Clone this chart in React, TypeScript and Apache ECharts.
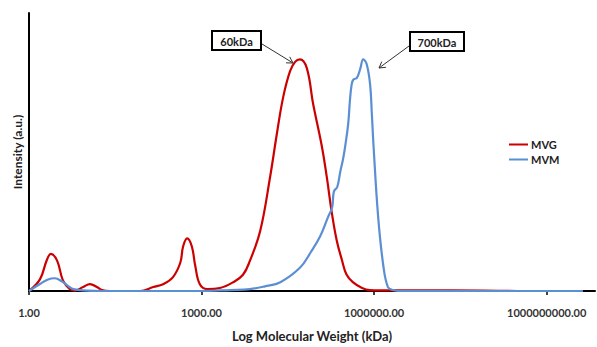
import React, { useEffect, useRef } from "react";
import * as echarts from "echarts";

// log10(MW in kDa) and normalised intensity
const mvgLogMW = [0, 0.19, 0.31, 0.38, 0.49, 0.59, 0.71, 0.8, 0.94, 1.06, 1.18, 1.27, 1.41, 1.93, 2.16, 2.33, 2.5, 2.63, 2.68, 2.75, 2.83, 2.89, 2.97, 3.1, 3.32, 3.55, 3.72, 3.84, 4.02, 4.19, 4.31, 4.42, 4.54, 4.63, 4.71, 4.83, 4.94, 5.09, 5.18, 5.26, 5.35, 5.44, 5.52, 5.63, 5.79, 5.93, 6.1, 6.8, 7.9, 8.5, 9.63];
const mvgIntensity = [0, 0.05, 0.134, 0.16, 0.13, 0.046, 0.008, 0.002, 0.017, 0.03, 0.017, 0.004, 0, 0, 0.017, 0.029, 0.059, 0.122, 0.193, 0.227, 0.193, 0.109, 0.029, 0.008, 0.013, 0.038, 0.07, 0.13, 0.26, 0.49, 0.68, 0.838, 0.95, 0.99, 1.0, 0.962, 0.807, 0.626, 0.487, 0.345, 0.218, 0.134, 0.071, 0.038, 0.013, 0.004, 0.003, 0.003, 0.002, 0, 0];

const mvmLogMW = [0, 0.19, 0.33, 0.45, 0.57, 0.66, 0.77, 1.0, 1.3, 3.0, 3.5, 3.84, 4.1, 4.37, 4.71, 4.89, 5.06, 5.2, 5.27, 5.3, 5.36, 5.41, 5.46, 5.5, 5.55, 5.58, 5.61, 5.64, 5.7, 5.76, 5.81, 5.87, 5.93, 5.96, 5.99, 6.07, 6.16, 6.24, 6.33, 6.45, 9.63];
const mvmIntensity = [0, 0.03, 0.05, 0.055, 0.042, 0.025, 0.008, 0.002, 0, 0, 0.004, 0.008, 0.02, 0.038, 0.1, 0.164, 0.235, 0.32, 0.36, 0.429, 0.45, 0.513, 0.57, 0.63, 0.724, 0.824, 0.892, 0.913, 0.92, 0.96, 1.0, 0.98, 0.892, 0.766, 0.626, 0.32, 0.109, 0.017, 0.004, 0, 0];

const tickValues = [0, 3, 6, 9];
const tickLabels = ["1.00", "1000.00", "1000000.00", "1000000000.00"];

const seriesNames = ["MVG", "MVM"];
const annotationLabels = ["60kDa", "700kDa"];

const FONT = "Lato";
const RED = "#CC0000";
const BLUE = "#5B8FD3";

function arrow(x1: number, y1: number, x2: number, y2: number) {
  const dx = x2 - x1;
  const dy = y2 - y1;
  const len = Math.sqrt(dx * dx + dy * dy);
  const ux = dx / len;
  const uy = dy / len;
  const px = -uy;
  const py = ux;
  const bx = x2 - 6 * ux;
  const by = y2 - 6 * uy;
  return [
    { type: "line", shape: { x1, y1, x2, y2 }, style: { stroke: "#333", lineWidth: 1 } },
    {
      type: "polyline",
      shape: { points: [[bx + 3.5 * px, by + 3.5 * py], [x2, y2], [bx - 3.5 * px, by - 3.5 * py]] },
      style: { stroke: "#333", lineWidth: 1, fill: null },
    },
  ];
}

function box(x: number, y: number, w: number, h: number, text: string) {
  return [
    { type: "rect", shape: { x, y, width: w, height: h }, style: { fill: "#fff", stroke: "#000", lineWidth: 2 } },
    {
      type: "text",
      x: x + w / 2,
      y: y + h / 2 + 0.5,
      style: { text, align: "center", verticalAlign: "middle", fontFamily: FONT, fontWeight: "bold", fontSize: 11, fill: "#222" },
    },
  ];
}

export default function App() {
  const ref = useRef<HTMLDivElement>(null);
  useEffect(() => {
    const chart = echarts.init(ref.current!, null, { renderer: "svg" });
    chart.setOption({
      animation: false,
      backgroundColor: "#fff",
      grid: { left: 29, right: 2, top: 13, bottom: 48, containLabel: false },
      legend: {
        orient: "vertical",
        left: 509,
        top: 139,
        padding: 0,
        itemGap: 4,
        icon: "rect",
        itemWidth: 19,
        itemHeight: 2,
        data: seriesNames,
        textStyle: { fontFamily: FONT, fontWeight: "bold", fontSize: 11, color: "#222", padding: [0, 0, 0, -2] },
      },
      xAxis: {
        type: "value",
        min: 0,
        max: 9.84,
        interval: 3,
        name: "Log Molecular Weight (kDa)",
        nameLocation: "middle",
        nameGap: 38,
        nameTextStyle: { fontFamily: FONT, fontWeight: "bold", fontSize: 13, color: "#222" },
        axisLine: { lineStyle: { color: "#000", width: 2 } },
        axisTick: { show: true, length: 4, customValues: tickValues, lineStyle: { color: "#000", width: 1.5 } },
        axisLabel: {
          customValues: tickValues,
          margin: 16,
          fontFamily: FONT,
          fontWeight: "bold",
          fontSize: 11,
          color: "#333",
          formatter: (v: number) => {
            const i = tickValues.indexOf(Math.round(v));
            return i >= 0 ? tickLabels[i] : "";
          },
        },
        splitLine: { show: false },
      },
      yAxis: {
        type: "value",
        min: 0,
        max: 1.2,
        name: "Intensity (a.u.)",
        nameLocation: "middle",
        nameGap: 6,
        nameRotate: 90,
        nameTextStyle: { fontFamily: FONT, fontWeight: "bold", fontSize: 12, color: "#222" },
        axisLine: { show: true, lineStyle: { color: "#000", width: 2 } },
        axisTick: { show: false },
        axisLabel: { show: false },
        splitLine: { show: false },
      },
      series: [
        {
          name: seriesNames[0],
          type: "line",
          data: mvgLogMW.map((x, i) => [x, mvgIntensity[i]]),
          showSymbol: false,
          smooth: 0.4,
          lineStyle: { color: RED, width: 2.2 },
          itemStyle: { color: RED },
        },
        {
          name: seriesNames[1],
          type: "line",
          data: mvmLogMW.map((x, i) => [x, mvmIntensity[i]]),
          showSymbol: false,
          smooth: 0.4,
          lineStyle: { color: BLUE, width: 2.2 },
          itemStyle: { color: BLUE },
        },
      ],
      graphic: [
        ...arrow(262, 44, 293, 63),
        ...box(212, 31, 49, 19, annotationLabels[0]),
        ...arrow(409, 46, 379, 68),
        ...box(410, 32, 54, 19, annotationLabels[1]),
      ],
    });
    return () => chart.dispose();
  }, []);
  return (
    <div
      ref={ref}
      style={{ position: "absolute", left: 0, top: 0, width: 597, height: 347, background: "#fff" }}
    />
  );
}
